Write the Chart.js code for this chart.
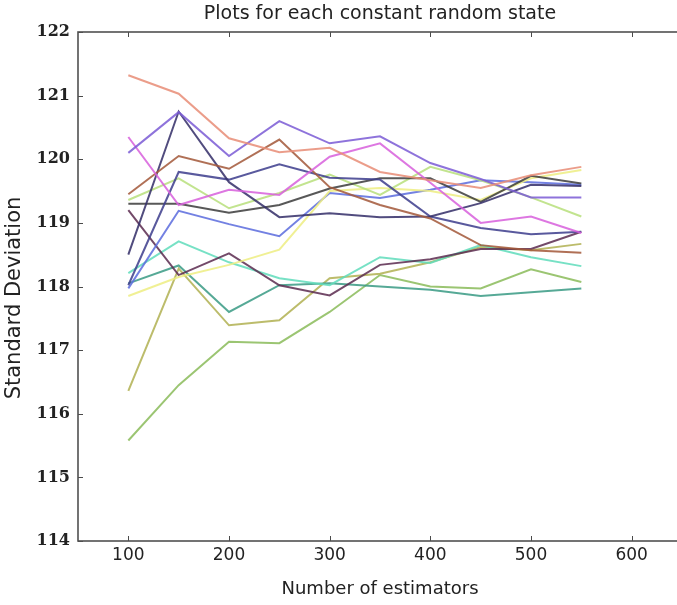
<!DOCTYPE html>
<html>
<head>
<meta charset="utf-8">
<script src="https://cdn.jsdelivr.net/npm/chart.js@4.4.0/dist/chart.umd.min.js"></script>
<style>
  html, body { margin: 0; padding: 0; background: #fff; overflow: hidden; }
  #wrap { width: 677px; height: 605px; overflow: hidden; }
  #wrap canvas { display: block; }
</style>
</head>
<body>
<div id="wrap"><canvas id="chart" width="700" height="605"></canvas></div>
<script>
const estimators = [100, 150, 200, 250, 300, 350, 400, 450, 500, 550];
const xTicks = [100, 200, 300, 400, 500, 600];
const yTicks = [114, 115, 116, 117, 118, 119, 120, 121, 122];
const chartTitle = 'Plots for each constant random state';
const yTitle = 'Standard Deviation';

const salmon     = [121.32, 121.03, 120.33, 120.11, 120.18, 119.80, 119.67, 119.55, 119.75, 119.88];
const violet     = [120.10, 120.74, 120.05, 120.60, 120.25, 120.36, 119.94, 119.69, 119.40, 119.40];
const magenta    = [120.35, 119.28, 119.52, 119.44, 120.04, 120.25, 119.63, 119.00, 119.10, 118.84];
const rust       = [119.45, 120.05, 119.85, 120.31, 119.56, 119.28, 119.07, 118.65, 118.57, 118.53];
const navyPeak   = [118.50, 120.75, 119.64, 119.09, 119.15, 119.09, 119.10, 119.31, 119.60, 119.58];
const navyRise   = [118.02, 119.80, 119.68, 119.92, 119.71, 119.68, 119.10, 118.92, 118.82, 118.86];
const charcoal   = [119.30, 119.30, 119.16, 119.28, 119.54, 119.70, 119.70, 119.33, 119.74, 119.62];
const lightGreen = [119.36, 119.70, 119.23, 119.47, 119.76, 119.44, 119.88, 119.67, 119.40, 119.10];
const yellow     = [117.85, 118.15, 118.34, 118.58, 119.50, 119.55, 119.50, 119.36, 119.70, 119.83];
const blue       = [117.97, 119.19, 118.98, 118.79, 119.47, 119.39, 119.52, 119.67, 119.64, 119.60];
const maroon     = [119.20, 118.18, 118.52, 118.02, 117.86, 118.34, 118.43, 118.59, 118.59, 118.86];
const cyan       = [118.21, 118.71, 118.38, 118.13, 118.02, 118.46, 118.37, 118.65, 118.46, 118.32];
const teal       = [118.05, 118.33, 117.60, 118.02, 118.05, 118.00, 117.95, 117.85, 117.91, 117.97];
const olive      = [116.36, 118.28, 117.39, 117.47, 118.13, 118.20, 118.38, 118.62, 118.57, 118.67];
const green      = [115.58, 116.45, 117.13, 117.11, 117.60, 118.18, 118.00, 117.97, 118.27, 118.07];

const series = [
  [salmon, '#e88e78'], [violet, '#7d5ed6'], [magenta, '#d862dc'], [rust, '#a45a3c'],
  [navyPeak, '#36306a'], [navyRise, '#3f3f8e'], [charcoal, '#3e3e3e'], [lightGreen, '#b9e07e'],
  [yellow, '#eeee84'], [blue, '#5e6ede'], [maroon, '#5e2e52'], [cyan, '#62dcbc'],
  [teal, '#3c9c86'], [olive, '#b2b254'], [green, '#8cbc5c']
];

// frame with inward ticks on all four sides, and the two titles placed like the original
const frameTicks = {
  id: 'frameTicks',
  afterDatasetsDraw(chart) {
    const { ctx, chartArea: a, scales } = chart;
    ctx.save();
    ctx.strokeStyle = '#4a4a4a';
    ctx.lineWidth = 1;
    ctx.beginPath();
    xTicks.forEach(v => {
      const px = Math.round(scales.x.getPixelForValue(v)) + 0.5;
      ctx.moveTo(px, a.bottom); ctx.lineTo(px, a.bottom - 5);
      ctx.moveTo(px, a.top); ctx.lineTo(px, a.top + 5);
    });
    yTicks.forEach(v => {
      const py = Math.round(scales.y.getPixelForValue(v)) + 0.5;
      ctx.moveTo(a.left, py); ctx.lineTo(a.left + 5, py);
      ctx.moveTo(a.right, py); ctx.lineTo(a.right - 5, py);
    });
    ctx.stroke();
    ctx.lineWidth = 1.6;
    ctx.strokeStyle = '#505050';
    ctx.strokeRect(a.left, a.top, a.right - a.left, a.bottom - a.top);

    ctx.fillStyle = '#222';
    ctx.textAlign = 'center';
    ctx.textBaseline = 'middle';
    ctx.font = '19px "DejaVu Sans"';
    ctx.fillText(chartTitle, (a.left + a.right) / 2, 14);
    ctx.translate(15, 298);
    ctx.rotate(-Math.PI / 2);
    ctx.font = '21px "DejaVu Sans"';
    ctx.fillText(yTitle, 0, 0);
    ctx.restore();
  }
};

new Chart(document.getElementById('chart'), {
  type: 'line',
  data: {
    datasets: series.map(([vals, col]) => ({
      data: estimators.map((x, i) => ({ x: x, y: vals[i] })),
      borderColor: col + 'dd',
      borderWidth: 2,
      pointRadius: 0,
      tension: 0,
      fill: false
    }))
  },
  options: {
    responsive: false,
    animation: false,
    layout: { padding: { left: 0, right: 18, top: 32, bottom: 5 } },
    plugins: {
      legend: { display: false },
      tooltip: { enabled: false },
      title: { display: false }
    },
    scales: {
      x: {
        type: 'linear',
        min: 50, max: 650,
        afterBuildTicks: s => { s.ticks = xTicks.map(v => ({ value: v })); },
        afterFit: s => { s.height = 59; },
        grid: { display: false, drawTicks: false },
        border: { display: false },
        ticks: { color: '#222', padding: 4, font: { family: 'DejaVu Sans', size: 17 } },
        title: {
          display: true, text: 'Number of estimators', color: '#222',
          font: { family: 'DejaVu Sans', size: 18 }, padding: { top: 0, bottom: 0 }
        }
      },
      y: {
        type: 'linear',
        min: 114, max: 122,
        afterBuildTicks: s => { s.ticks = yTicks.map(v => ({ value: v })); },
        afterFit: s => { s.width = 78; },
        grid: { display: false, drawTicks: false },
        border: { display: false },
        ticks: { color: '#222', padding: 8, font: { family: 'DejaVu Serif', size: 16, weight: 'bold' } },
        title: { display: false }
      }
    }
  },
  plugins: [frameTicks]
});
</script>
</body>
</html>
